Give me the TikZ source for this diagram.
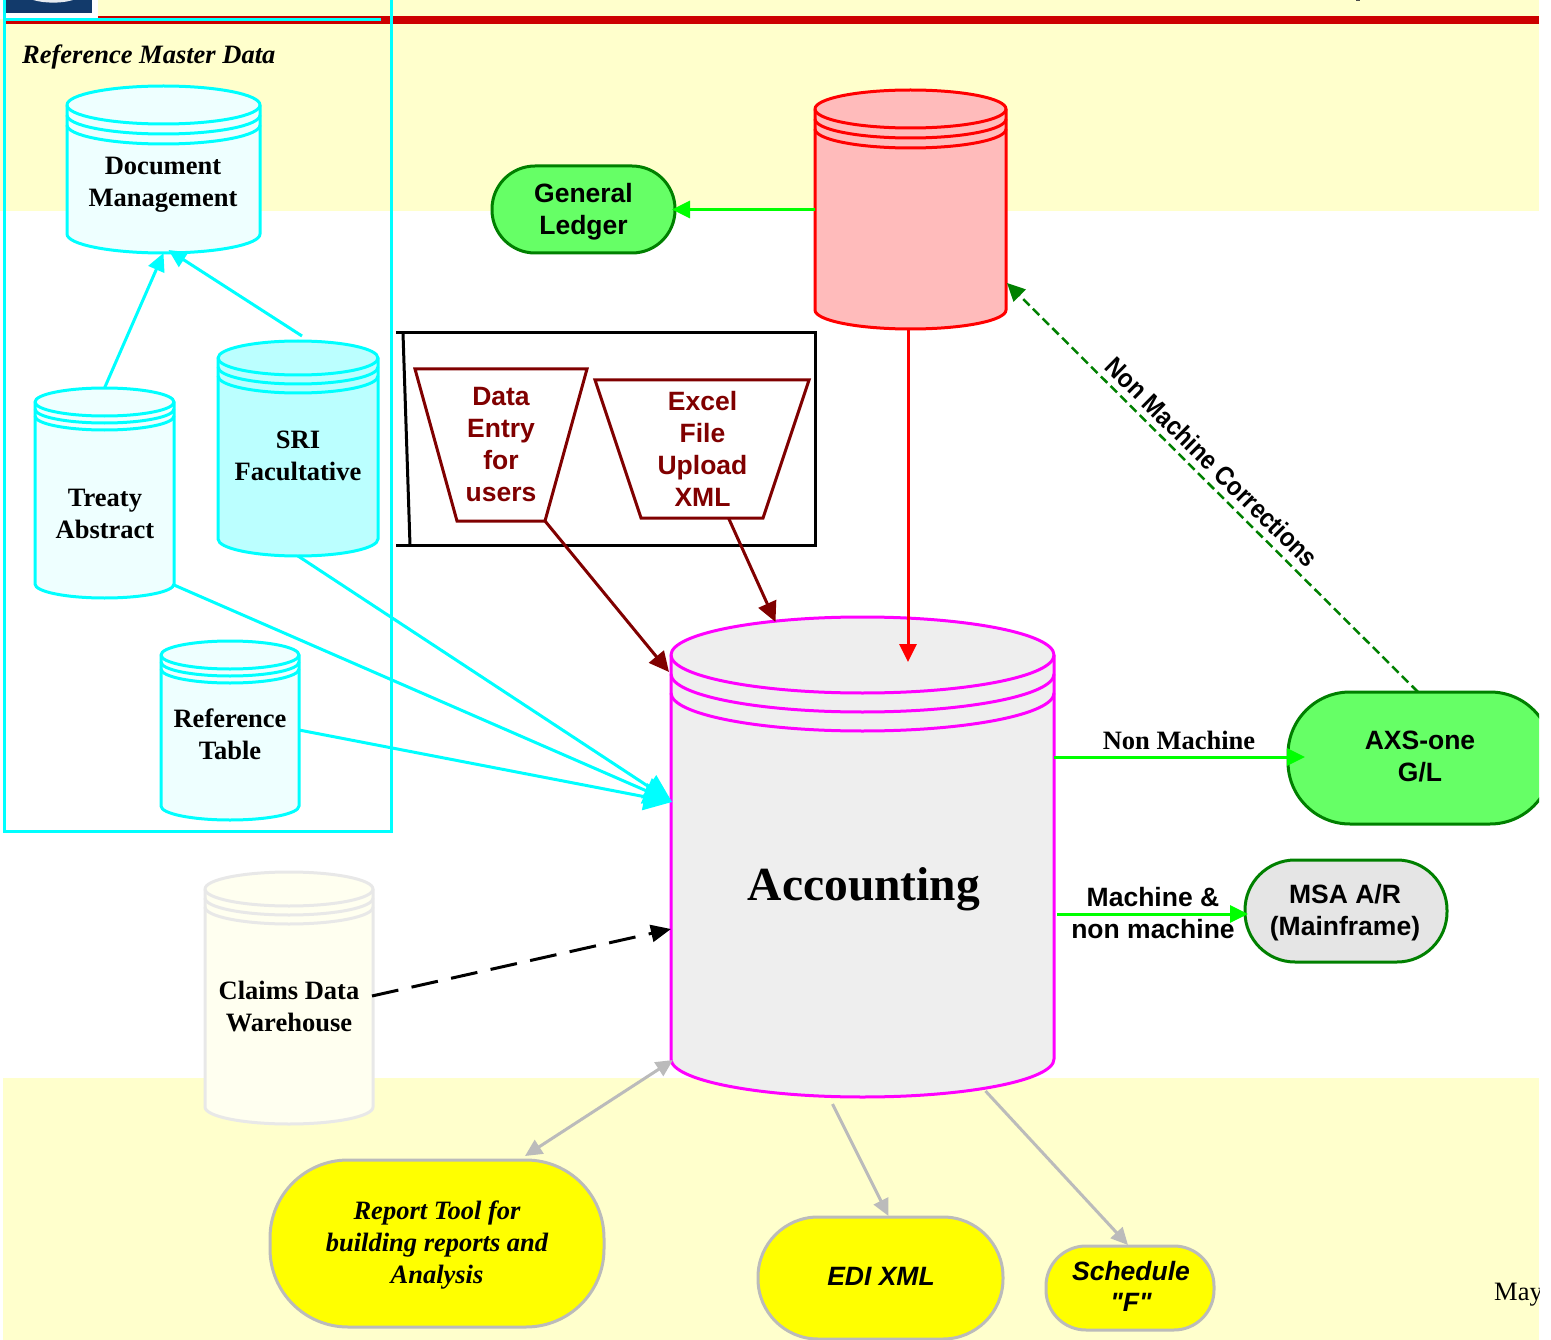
\documentclass[tikz,border=0pt]{standalone}
\usepackage{fontspec}
\usepackage{graphicx}
\setmainfont{Liberation Serif}
\newfontfamily\arialf{Liberation Sans}
\usetikzlibrary{arrows.meta,calc}
\definecolor{paleyellow}{HTML}{FFFFCC}
\definecolor{barred}{HTML}{CC0000}
\definecolor{aqua}{HTML}{00FFFF}
\definecolor{pureyellow}{HTML}{FFFF00}
\definecolor{puremagenta}{HTML}{FF00FF}
\definecolor{purered}{HTML}{FF0000}
\definecolor{darkred}{HTML}{800000}
\definecolor{dkgreen}{HTML}{008000}
\definecolor{ltgreen}{HTML}{66FF66}
\definecolor{brightgreen}{HTML}{00FF00}
\definecolor{softgray}{HTML}{BBBBBB}
\definecolor{logoblue}{HTML}{123A6B}
\definecolor{paleaqua}{HTML}{EEFFFF}
\definecolor{midaqua}{HTML}{BBFFFF}
\definecolor{palered}{HTML}{FFBBBB}
\definecolor{paleivory}{HTML}{FFFFF0}
\definecolor{ghost}{HTML}{E8E8E8}
\definecolor{accfill}{HTML}{EEEEEE}
\definecolor{msafill}{HTML}{E5E5E5}
\tikzset{
  serifb/.style={font=\fontsize{26.5pt}{32pt}\selectfont\bfseries,align=center,inner sep=0pt,outer sep=0pt,text=black},
  serifbi/.style={font=\fontsize{26.5pt}{32pt}\selectfont\bfseries\itshape,align=center,inner sep=0pt,outer sep=0pt,text=black},
  arialb/.style={font=\fontsize{26.5pt}{32pt}\selectfont\arialf\bfseries,align=center,inner sep=0pt,outer sep=0pt},
  arialbi/.style={font=\fontsize{26.5pt}{31pt}\selectfont\arialf\bfseries\itshape,align=center,inner sep=0pt,outer sep=0pt},
  pill/.style={draw,line width=3pt,inner sep=0pt,outer sep=0pt},
  anchorbox/.style={inner sep=0pt,outer sep=0pt},
  conn/.style={line width=3pt},
  tipm/.style={-{Triangle[length=18pt,width=17pt]}},
  tipdr/.style={-{Triangle[length=20pt,width=19pt]}},
  tipk/.style={-{Triangle[length=20pt,width=17pt]}},
  tipb/.style={-{Triangle[length=28pt,width=27pt]}},
  tips/.style={-{Triangle[length=17pt,width=16pt]}},
  tipd/.style={{Triangle[length=17pt,width=16pt]}-{Triangle[length=17pt,width=16pt]}},
}
% \cyl{name}{x0}{x1}{top}{bottom}{ry}{gap}{stroke}{fill}
\newcommand{\cyl}[9]{%
  \pgfmathsetmacro{\Xa}{#2}\pgfmathsetmacro{\Xb}{#3}
  \pgfmathsetmacro{\Xm}{(#2+#3)/2}\pgfmathsetmacro{\Rx}{(#3-#2)/2}
  \pgfmathsetmacro{\Kx}{0.5523*\Rx}\pgfmathsetmacro{\Ky}{0.5523*#6}
  \pgfmathsetmacro{\Ct}{#4+#6}\pgfmathsetmacro{\Cb}{#5-#6}
  \draw[line width=3pt,draw=#8,fill=#9]
    (\Xa,\Ct) .. controls (\Xa,\Ct-\Ky) and (\Xm-\Kx,\Ct-#6) .. (\Xm,\Ct-#6)
    .. controls (\Xm+\Kx,\Ct-#6) and (\Xb,\Ct-\Ky) .. (\Xb,\Ct)
    -- (\Xb,\Cb) .. controls (\Xb,\Cb+\Ky) and (\Xm+\Kx,\Cb+#6) .. (\Xm,\Cb+#6)
    .. controls (\Xm-\Kx,\Cb+#6) and (\Xa,\Cb+\Ky) .. (\Xa,\Cb) -- cycle;
  \foreach \g in {0,1,2}{
    \pgfmathsetmacro{\Cy}{\Ct+\g*#7}
    \draw[line width=3pt,draw=#8]
      (\Xa,\Cy) .. controls (\Xa,\Cy+\Ky) and (\Xm-\Kx,\Cy+#6) .. (\Xm,\Cy+#6)
      .. controls (\Xm+\Kx,\Cy+#6) and (\Xb,\Cy+\Ky) .. (\Xb,\Cy);
  }
  \pgfmathsetmacro{\Hh}{#5-#4}\pgfmathsetmacro{\Yc}{(#4+#5)/2}\pgfmathsetmacro{\Ww}{#3-#2}
  \node[anchorbox,minimum width=\Ww pt,minimum height=\Hh pt] (#1) at (\Xm,\Yc) {};
}
\begin{document}
\begin{tikzpicture}[x=1pt,y=-1pt]
\useasboundingbox (0,0) rectangle (1551,1340);
\clip (0,0) rectangle (1539,1340);
% backgrounds
\fill[paleyellow] (0,0) rectangle (1539,211);
\fill[paleyellow] (3,1078) rectangle (1539,1340);
\fill[white] (0,0) rectangle (98,19);
\fill[logoblue] (5,0) rectangle (92,13);
\fill[white!90!logoblue] (33,0) .. controls (45,3.5) and (62,3.5) .. (73,0) -- cycle;
\fill[barred] (98,16.3) rectangle (1539,23.7);
\fill[barred] (5,20) rectangle (98,23.7);
\fill[black!70] (1356,0) rectangle (1360,1);
% cylinders
\cyl{doc}{67}{260}{86}{253}{19}{10}{aqua}{paleaqua}
\cyl{sri}{218}{378}{341}{556}{17}{9}{aqua}{midaqua}
\cyl{treaty}{35}{174}{388}{598}{14}{7}{aqua}{paleaqua}
\cyl{reft}{161}{299}{641}{820}{14}{7}{aqua}{paleaqua}
\cyl{redc}{815}{1006}{90}{329}{19}{10}{purered}{palered}
\cyl{claims}{205}{373}{872}{1124}{17}{9}{ghost}{paleivory}
\cyl{acc}{671}{1054}{617}{1097}{38}{19}{puremagenta}{accfill}
% frame of the master data group
\draw[aqua,line width=3pt] (4,20) -- (381,20);
\draw[aqua,line width=3pt] (4,0) -- (4,831) -- (391,831) -- (391,0);
% texts in cylinders
\node[serifb] (doct) at (163,185) {Document\\Management};
\node[serifb] (srit) at (298,456) {SRI\\Facultative};
\node[serifb] (treatyt) at (105,514) {Treaty\\Abstract};
\node[serifb] (reftt) at (230,734) {Reference\\Table};
\node[serifb] (claimst) at (289,1006.5) {Claims Data\\Warehouse};
\node[font=\fontsize{47.5pt}{52pt}\selectfont\bfseries,inner sep=0pt] (acct) at (864,889) {Accounting};
\node[font=\fontsize{26.5pt}{32pt}\selectfont\bfseries\itshape,inner sep=0pt,anchor=west] (rmd) at (22,57) {Reference Master Data};
% input box
\draw[black,line width=3pt] (396,333) -- (815,333) -- (815,545) -- (396,545);
\draw[black,line width=3pt] (403,333) -- (410,545);
\draw[darkred,line width=3pt,fill=white] (415,369) -- (587,369) -- (545,521) -- (457,521) -- cycle;
\draw[darkred,line width=3pt,fill=white] (595,380) -- (809,380) -- (763,518) -- (641,518) -- cycle;
\node[arialb,text=darkred,minimum width=88pt,minimum height=152pt] (data) at (501,445) {Data\\Entry\\for\\users};
\node[arialb,text=darkred,minimum width=122pt,minimum height=138pt] (excel) at (702.5,449) {Excel\\File\\Upload\\XML};
% pills
\node[pill,draw=dkgreen,fill=ltgreen,minimum width=183pt,minimum height=87pt,rounded corners=43pt] (gl) at (583.5,209.5) {};
\node[pill,draw=dkgreen,fill=ltgreen,minimum width=264pt,minimum height=132pt,rounded corners=62pt] (axs) at (1420,758) {};
\node[pill,draw=dkgreen,fill=msafill,minimum width=202pt,minimum height=102pt,rounded corners=50pt] (msa) at (1346,911) {};
\node[pill,draw=softgray,fill=pureyellow,minimum width=334pt,minimum height=167pt,rounded corners=78pt] (report) at (437,1243.5) {};
\node[pill,draw=softgray,fill=pureyellow,minimum width=245pt,minimum height=122pt,rounded corners=60pt] (edi) at (880.5,1278) {};
\node[pill,draw=softgray,fill=pureyellow,minimum width=168pt,minimum height=84pt,rounded corners=40pt] (sched) at (1130,1288) {};
\node[arialb] (glt) at (583.5,211.5) {General\\Ledger};
\node[arialb] (axst) at (1420,756.5) {AXS-one\\G/L};
\node[arialb] (msat) at (1345,913) {MSA A/R\\(Mainframe)};
\node[serifbi] (reportt) at (437,1245) {Report Tool for\\building reports and\\Analysis};
\node[arialbi] (edit) at (881,1276) {EDI XML};
\node[arialbi] (schedt) at (1131,1286.5) {Schedule\\"F"};
% connectors
\draw[conn,aqua,tipm] (treaty.north) -- (doc.south);
\draw[conn,aqua,tipm] ([xshift=4pt,yshift=5pt]sri.north) -- ([xshift=5pt,yshift=3pt]doc.south);
\draw[conn,aqua,tipb] ([yshift=-92pt]treaty.east) -- ([yshift=55pt,xshift=1pt]acc.west);
\draw[conn,aqua,tipb] (sri.south) -- ([yshift=55pt,xshift=1pt]acc.west);
\draw[conn,aqua,tipb] ([yshift=0.5pt]reft.east) -- ([yshift=55pt,xshift=1pt]acc.west);
\draw[conn,darkred,tipdr] (data.south east) -- ([xshift=-2pt,yshift=185pt]acc.west);
\draw[conn,darkred,tipdr] ([xshift=26pt]excel.south) -- ([xshift=-87pt,yshift=-5pt]acc.north);
\draw[conn,purered,tipm] ([xshift=-2.5pt]redc.south) -- ([xshift=45.5pt,yshift=-45pt]acc.north);
\draw[conn,brightgreen,tipm] (redc.west) -- ([xshift=-3pt]gl.east);
\draw[line width=2.5pt,dkgreen,dash pattern=on 9pt off 4.7pt,tipm] ([xshift=-2pt]axs.north) -- ([yshift=-73.5pt,xshift=1pt]redc.east);
\draw[conn,brightgreen,tipm] ([yshift=100pt]acc.east) -- ([xshift=17pt,yshift=1pt]axs.west);
\draw[conn,brightgreen,tipm] ([yshift=-57pt,xshift=3pt]acc.east) -- ([xshift=3pt,yshift=-3pt]msa.west);
\draw[conn,black,tipk,dash pattern=on 27pt off 13.5pt] ([yshift=2pt,xshift=-1pt]claims.east) -- ([yshift=-72pt]acc.west);
\draw[conn,softgray,tipd] ([xshift=88pt,yshift=4pt]report.north) -- ([xshift=2pt,yshift=-203pt]acc.west);
\draw[conn,softgray,tips] ([xshift=-30pt,yshift=-7pt]acc.south) -- ([xshift=8pt,yshift=1pt]edi.north);
\draw[conn,softgray,tips] ([xshift=123pt,yshift=6pt]acc.south) -- ([xshift=-2pt,yshift=1pt]sched.north);
% connector labels
\node[serifb] (lnm) at (1179,740) {Non Machine};
\node[arialb] (lmn) at (1153,913) {Machine \&\\non machine};
\node[font=\fontsize{26.5pt}{32pt}\selectfont\arialf\bfseries,inner sep=0pt,rotate=-44.6] (lnmc) at (1212,462) {\scalebox{0.89}[1]{Non Machine Corrections}};
\node[font=\fontsize{26.5pt}{32pt}\selectfont,inner sep=0pt,anchor=base west] (may) at (1494,1300) {May};
\end{tikzpicture}
\end{document}
